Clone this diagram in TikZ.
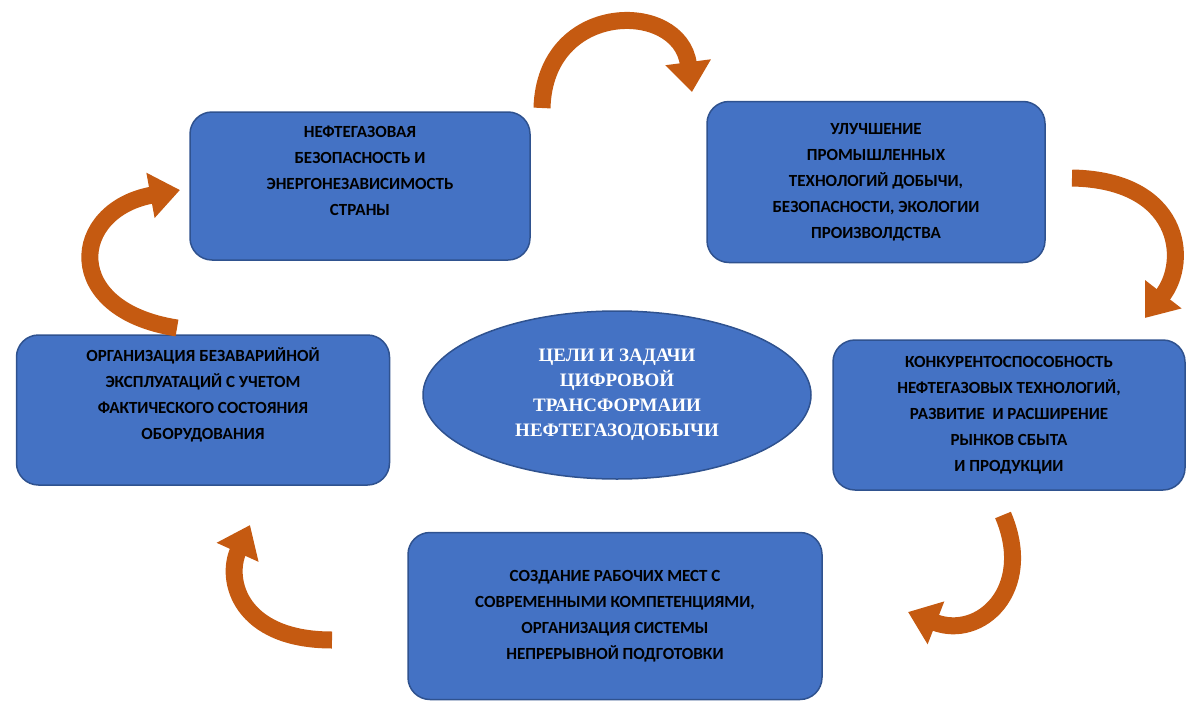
\documentclass[tikz,border=0pt]{standalone}
\usepackage{fontspec}
\setmainfont{Carlito}
\newfontfamily\serifb{Liberation Serif}
\usetikzlibrary{arrows.meta,shapes.geometric}
\definecolor{bfill}{HTML}{4472C4}
\definecolor{bline}{HTML}{2F528F}
\definecolor{arr}{HTML}{C55A11}
\tikzset{
 box/.style={draw=bline,line width=1.5pt,fill=bfill,rounded corners=22pt,align=center,font=\fontsize{17}{26}\selectfont\bfseries,text=black,inner sep=0pt},
 cyc/.style={draw=arr,line width=17pt,-{Triangle[width=44pt,length=30pt]}}
}
\begin{document}
\begin{tikzpicture}[x=1pt,y=-1pt]
\useasboundingbox (0,0) rectangle (1200,707);
\node[box,minimum width=340pt,minimum height=148pt] (b1) at (360,186) {НЕФТЕГАЗОВАЯ\\БЕЗОПАСНОСТЬ И\\ЭНЕРГОНЕЗАВИСИМОСТЬ\\СТРАНЫ\\[4pt]};
\node[box,minimum width=338pt,minimum height=161pt] (b2) at (876,182) {УЛУЧШЕНИЕ\\ПРОМЫШЛЕННЫХ\\ТЕХНОЛОГИЙ ДОБЫЧИ,\\БЕЗОПАСНОСТИ, ЭКОЛОГИИ\\ПРОИЗВОЛДСТВА};
\node[box,minimum width=352pt,minimum height=150pt] (b3) at (1009,415) {КОНКУРЕНТОСПОСОБНОСТЬ\\НЕФТЕГАЗОВЫХ ТЕХНОЛОГИЙ,\\РАЗВИТИЕ \ И РАСШИРЕНИЕ\\РЫНКОВ СБЫТА\\И ПРОДУКЦИИ};
\node[box,minimum width=414pt,minimum height=167pt] (b4) at (615,616) {СОЗДАНИЕ РАБОЧИХ МЕСТ С\\СОВРЕМЕННЫМИ КОМПЕТЕНЦИЯМИ,\\ОРГАНИЗАЦИЯ СИСТЕМЫ\\НЕПРЕРЫВНОЙ ПОДГОТОВКИ};
\node[box,minimum width=373pt,minimum height=150pt] (b5) at (203,410) {ОРГАНИЗАЦИЯ БЕЗАВАРИЙНОЙ\\ЭКСПЛУАТАЦИЙ С УЧЕТОМ\\ФАКТИЧЕСКОГО СОСТОЯНИЯ\\ОБОРУДОВАНИЯ\\[6pt]};
\node[draw=bline,line width=1.5pt,fill=bfill,ellipse,minimum width=388pt,minimum height=168pt,inner sep=0pt,align=center,text=white,font=\serifb\fontsize{19}{25}\selectfont\bfseries] (c) at (617,395) {ЦЕЛИ И ЗАДАЧИ\\ЦИФРОВОЙ\\ТРАНСФОРМАИИ\\НЕФТЕГАЗОДОБЫЧИ};
\coordinate (a1s) at (542,108); \coordinate (a1e) at (692,92);
\draw[cyc] (a1s) .. controls (545,0) and (680,0) .. (a1e);
\coordinate (a2s) at (1072,178); \coordinate (a2e) at (1145,318);
\draw[cyc] (a2s) .. controls (1180,180) and (1190,260) .. (a2e);
\coordinate (a3s) at (1003,515); \coordinate (a3e) at (908,612);
\draw[cyc] (a3s) .. controls (1035,590) and (980,640) .. (a3e);
\coordinate (a4s) at (332,640); \coordinate (a4e) at (250,525);
\draw[cyc] (a4s) .. controls (240,640) and (225,580) .. (a4e);
\coordinate (a5s) at (177,328); \coordinate (a5e) at (180,190);
\draw[cyc] (a5s) .. controls (60,310) and (70,210) .. (a5e);
\end{tikzpicture}
\end{document}
